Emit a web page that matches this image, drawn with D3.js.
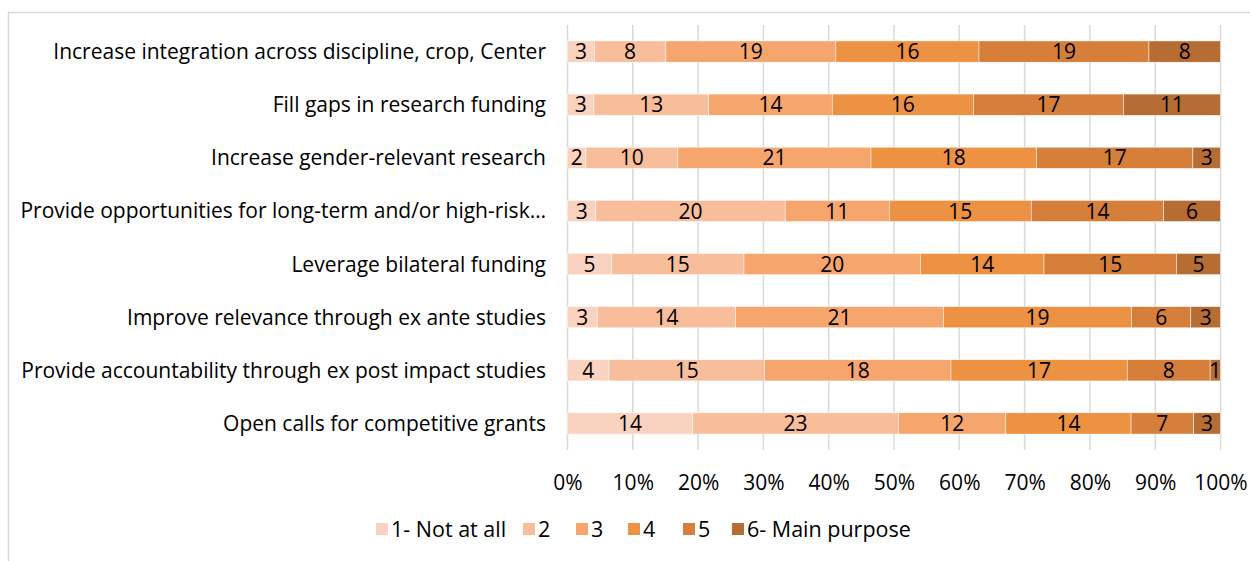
<!DOCTYPE html>
<html>
<head>
<meta charset="utf-8">
<script src="https://cdn.jsdelivr.net/npm/d3@7"></script>
<style>
  html, body { margin: 0; padding: 0; background: #fff; }
  svg { display: block; }
  text { font-family: "Open Sans", "Noto Sans", sans-serif; fill: #000; }
</style>
</head>
<body>
<svg id="chart" width="1250" height="561"></svg>
<script>
const categories = [
  "Increase integration across discipline, crop, Center",
  "Fill gaps in research funding",
  "Increase gender-relevant research",
  "Provide opportunities for long-term and/or high-risk\u2026",
  "Leverage bilateral funding",
  "Improve relevance through ex ante studies",
  "Provide accountability through ex post impact studies",
  "Open calls for competitive grants"
];
const seriesNames = ["1- Not at all", "2", "3", "4", "5", "6- Main purpose"];
const s1 = [3, 3, 2, 3, 5, 3, 4, 14];
const s2 = [8, 13, 10, 20, 15, 14, 15, 23];
const s3 = [19, 14, 21, 11, 20, 21, 18, 12];
const s4 = [16, 16, 18, 15, 14, 19, 17, 14];
const s5 = [19, 17, 17, 14, 15, 6, 8, 7];
const s6 = [8, 11, 3, 6, 5, 3, 1, 3];
const tickValues = [0, 0.1, 0.2, 0.3, 0.4, 0.5, 0.6, 0.7, 0.8, 0.9, 1.0];
const colors = ["#FAD3C0", "#F8BE9C", "#F6A66C", "#ED9143", "#D67F3B", "#B56D33"];

const series = [s1, s2, s3, s4, s5, s6];
const rows = categories.map((c, i) => {
  const vals = series.map(s => s[i]);
  const total = d3.sum(vals);
  let acc = 0;
  const segs = vals.map((v, k) => {
    const seg = { k, v, x0: acc / total, x1: (acc + v) / total };
    acc += v;
    return seg;
  });
  return { cat: c, segs };
});

const svg = d3.select("#chart");
const W = 1250, H = 561;
const FS = 21;

// chart border
svg.append("rect")
  .attr("x", 8.5).attr("y", 12.5)
  .attr("width", W + 20).attr("height", H + 20)
  .attr("fill", "#fff").attr("stroke", "#D9D9D9").attr("stroke-width", 1.5);

const x = d3.scaleLinear().domain([0, 1]).range([567.5, 1220.5]);
const y = d3.scaleBand().domain(categories).range([25, 450]).paddingInner(0.6).paddingOuter(0.3);

// gridlines
svg.append("g").selectAll("line").data(tickValues).join("line")
  .attr("x1", d => x(d)).attr("x2", d => x(d))
  .attr("y1", 25).attr("y2", 450)
  .attr("stroke", "#D9D9D9").attr("stroke-width", 1.5);

// bars
const rowG = svg.append("g").selectAll("g").data(rows).join("g")
  .attr("transform", d => `translate(0,${y(d.cat)})`);

rowG.selectAll("rect").data(d => d.segs).join("rect")
  .attr("x", d => x(d.x0))
  .attr("width", d => x(d.x1) - x(d.x0))
  .attr("y", 0)
  .attr("height", y.bandwidth())
  .attr("fill", d => colors[d.k])
  .attr("stroke", "#fff").attr("stroke-width", 0.5);

rowG.selectAll("text").data(d => d.segs).join("text")
  .attr("x", d => (x(d.x0) + x(d.x1)) / 2)
  .attr("y", y.bandwidth() / 2)
  .attr("dy", "0.36em")
  .attr("text-anchor", "middle")
  .attr("font-size", FS)
  .text(d => d.v);

// category labels
svg.append("g").selectAll("text").data(categories).join("text")
  .attr("x", 546)
  .attr("y", d => y(d) + y.bandwidth() / 2)
  .attr("dy", "0.36em")
  .attr("text-anchor", "end")
  .attr("font-size", 21)
  .text(d => d);

// x axis tick labels
const xAxis = d3.axisBottom(x).tickValues(tickValues).tickFormat(d3.format(".0%")).tickSize(0).tickPadding(0);
const ax = svg.append("g").attr("transform", "translate(0,482)").call(xAxis);
ax.select(".domain").remove();
ax.selectAll("text").attr("font-size", FS).attr("dy", "0.36em").attr("y", 0)
  .style("font-family", '"Open Sans", "Noto Sans", sans-serif').attr("fill", "#000");

// legend
const legendX = [376, 523, 576, 628, 683, 732];
const lg = svg.append("g").selectAll("g").data(seriesNames).join("g")
  .attr("transform", (d, i) => `translate(${legendX[i]},523)`);
lg.append("rect").attr("width", 12).attr("height", 12).attr("fill", (d, i) => colors[i]);
lg.append("text").attr("x", 15).attr("y", 6).attr("dy", "0.36em")
  .attr("font-size", 21.5).text(d => d);
</script>
</body>
</html>
